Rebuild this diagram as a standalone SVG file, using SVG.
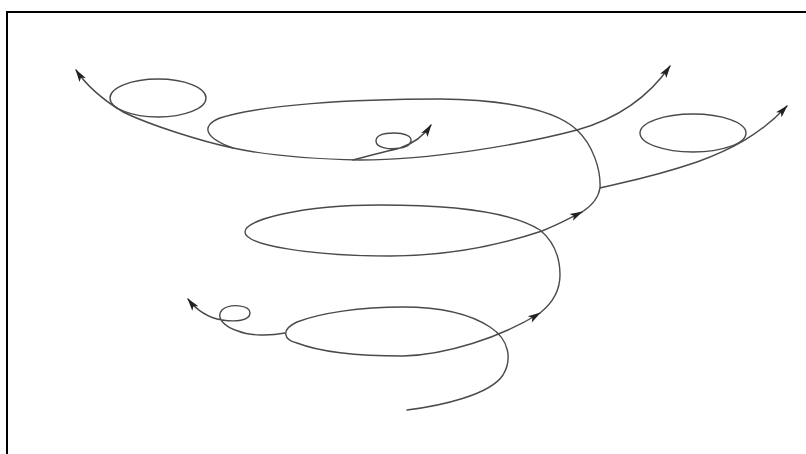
<svg xmlns="http://www.w3.org/2000/svg" width="806" height="454" viewBox="0 0 806 454">
<defs>
<style>
.c{fill:none;stroke:#4a4a4a;stroke-width:1.4;stroke-linecap:round;stroke-linejoin:round}
.frame{fill:none;stroke:#000;stroke-width:2}
</style>
<marker id="ah" viewBox="-14 -5 16 10" refX="0" refY="0" markerWidth="16" markerHeight="10" markerUnits="userSpaceOnUse" orient="auto">
<path d="M1,0 L-12,-3.8 L-9,0 L-12,3.8 Z" fill="#222"/>
</marker>
</defs>
<rect width="806" height="454" fill="#fff"/>
<path class="frame" d="M7,454 V12 H806"/>
<g id="connectors">
<path class="c" marker-end="url(#ah)" d="M407,410 C440,406 490,395 503,375 C512,360 510,340 490,327 C470,314 440,307 403,307 C360,307 320,313 297,322 C280,330 284,340 297,343 C320,352 360,356 403,356 C445,355 500,338 540,313"/>
<path class="c" marker-end="url(#ah)" d="M540,313 C550,305 560,292 560,275 C560,255 552,240 540,230 C515,214 460,205 380,205 C300,205 245,220 245,232 C245,245 310,256 390,256 C450,256 500,245 542,231 C560,224 570,218 582,212"/>
<path class="c" marker-end="url(#ah)" d="M582,212 C590,207 598,200 600,188 C601,170 593,145 577,130 C560,114 520,100 440,99 C350,99 260,105 220,118 C200,126 205,138 233,148 C270,156 310,159 360,160 C430,160 520,145 577,130 C620,118 650,95 670,66"/>
<path class="c" marker-end="url(#ah)" d="M233,148 C200,141 150,125 123,112 C105,101 88,88 76,70"/>
<path class="c" marker-end="url(#ah)" d="M353,160 C370,155 385,152 400,148 C390,150 376,148 376,141 C376,135 385,133 394,133 C404,133 412,136 411,141 C410,146 403,148 400,148 C412,144 423,137 431,125"/>
<path class="c" marker-end="url(#ah)" d="M600,188 C620,183 650,178 697,162 C730,150 760,135 787,106"/>
<path class="c" marker-end="url(#ah)" d="M285,333 C270,336 250,336 238,331 C225,327 215,318 222,310 C230,303 250,305 250,313 C250,321 235,322 222,320 C210,318 198,312 188,299"/>
</g>
<g id="loop-top-left"><ellipse class="c" cx="158" cy="98" rx="48" ry="19"/></g>
<g id="loop-right"><ellipse class="c" cx="693" cy="133" rx="53" ry="19"/></g>
</svg>
